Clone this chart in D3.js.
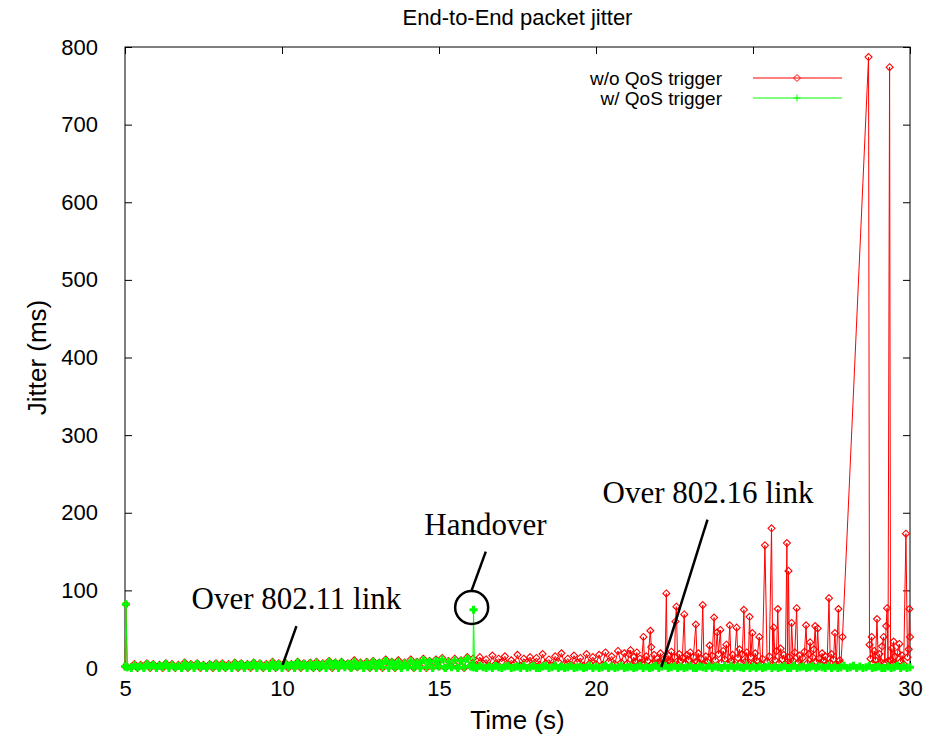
<!DOCTYPE html>
<html>
<head>
<meta charset="utf-8">
<script src="https://cdn.jsdelivr.net/npm/d3@7"></script>
<style>
  body { margin: 0; background: #fff; }
</style>
</head>
<body>
<script>
const sampleStep = 0.1;

const startSpike = [[5.0, 2], [5.03, 82], [5.07, 1]];

// w/o QoS trigger
const redEarlyStart = 5.2;
const redEarly = [
    1,5,0,4,2,6,0,5,1,4,0,6,2,5,0,4,1,7,0,5,2,6,0,4,1,5,0,6,1,
    6,0,5,2,7,0,6,1,5,0,7,2,6,0,5,1,8,0,6,2,7,0,5,1,8,0,6,2,7,0,
    8,0,6,2,9,0,7,1,8,2,6,0,10,1,7,2,8,0,9,1,7,0,11,2,8,0,10,1,7,2,
    11,0,8,2,12,0,9,1,11,2,13,0,9,2,12,1,10,0,14,3
];
const redHandover = [[16.08, 12], [16.14, 3]];
const redMidStart = 16.2;
const redMid = [
    4,14,6,11,3,16,5,12,8,15,4,10,6,17,3,12,7,14,5,
    13,4,18,6,11,3,15,8,19,5,12,4,16,7,13,3,18,6,14,5,
    17,4,20,8,15,5,22,7,19
];
const redLate = [
    [21.0,6],[21.05,18],[21.1,23],[21.15,5],[21.2,14],[21.25,8],[21.3,20],[21.35,4],[21.4,12],[21.45,6],
    [21.51,40],[21.55,5],[21.6,15],[21.65,9],[21.73,48],[21.76,27],[21.8,6],[21.85,17],[21.9,4],[21.95,12],
    [22.0,7],[22.05,19],[22.1,5],[22.15,11],[22.2,6],[22.24,96],[22.27,4],[22.32,16],[22.36,8],[22.4,21],
    [22.45,6],[22.5,14],[22.53,60],[22.56,79],[22.6,5],[22.65,18],[22.7,9],[22.75,13],[22.81,69],[22.85,6],
    [22.9,17],[22.95,10],[23.0,20],[23.05,5],[23.1,14],[23.18,56],[23.22,8],[23.26,19],[23.3,6],[23.35,12],
    [23.4,81],[23.44,5],[23.5,15],[23.55,8],[23.62,29],[23.66,4],[23.7,16],[23.76,65],[23.8,10],[23.86,46],
    [23.9,18],[23.96,49],[24.0,7],[24.05,22],[24.1,11],[24.15,30],[24.2,6],[24.26,55],[24.3,9],[24.35,17],
    [24.4,5],[24.48,52],[24.52,13],[24.57,24],[24.62,7],[24.66,18],[24.71,75],[24.75,8],[24.8,20],[24.85,5],
    [24.89,66],[24.93,14],[24.98,45],[25.02,6],[25.07,19],[25.12,9],[25.2,40],[25.25,5],[25.3,12],[25.38,158],
    [25.45,8],[25.52,15],[25.59,180],[25.63,4],[25.66,52],[25.7,10],[25.75,22],[25.79,76],[25.83,6],[25.88,25],
    [25.93,11],[25.98,17],[26.03,5],[26.08,161],[26.1,8],[26.13,125],[26.16,14],[26.2,6],[26.23,58],[26.28,9],
    [26.33,20],[26.39,77],[26.43,7],[26.48,16],[26.53,4],[26.58,13],[26.64,21],[26.69,55],[26.73,6],[26.78,18],
    [26.82,33],[26.86,5],[26.9,14],[26.94,24],[26.98,54],[27.02,8],[27.06,51],[27.1,12],[27.15,6],[27.2,19],
    [27.25,9],[27.3,15],[27.36,5],[27.42,90],[27.46,7],[27.5,18],[27.56,11],[27.61,45],[27.65,4],[27.72,76],
    [27.76,10],[27.8,6],[27.85,40],[28.68,787],[28.71,30],[28.74,12],[28.78,40],[28.82,6],[28.86,22],[28.9,10],
    [28.95,63],[28.99,5],[29.03,18],[29.07,8],[29.11,28],[29.16,40],[29.2,7],[29.24,54],[29.27,77],[29.3,9],
    [29.35,774],[29.38,10],[29.42,25],[29.45,6],[29.48,34],[29.52,15],[29.56,5],[29.6,20],[29.66,31],[29.7,8],
    [29.75,16],[29.8,5],[29.87,173],[29.92,14],[29.96,24],[29.98,76],[30.0,40]
];

// w/ QoS trigger
const greenEarlyStart = 5.2;
const greenEarly = [
    0,4,1,3,0,5,1,4,0,3,1,5,0,4,1,3,0,6,1,4,0,5,1,3,0,4,1,5,0,
    5,1,4,0,6,1,5,0,4,1,6,0,5,1,4,0,7,1,5,0,6,1,4,0,7,1,5,0,6,1,
    7,1,5,0,8,1,6,0,7,1,5,0,8,2,6,0,7,1,8,0,6,1,9,0,7,1,8,0,6,1,
    9,1,7,0,10,1,8,0,9,2,11,0,8,1,10,0,9,1,12,2
];
const greenHandover = [[16.05, 4], [16.08, 1], [16.1, 75], [16.13, 1]];
const greenLateStart = 16.2;
const greenLate = [
    0,3,1,0,2,0,3,1,0,2, 3,0,1,2,0,3,0,1,3,0, 0,2,3,0,1,3,0,2,0,1,
    3,0,1,2,0,1,3,0,2,0, 1,3,0,2,0,1,3,0,1,2, 0,1,3,0,2,0,1,3,0,2,
    3,0,1,3,0,2,0,1,3,0, 0,2,1,0,3,0,2,1,0,3, 0,3,0,2,1,0,3,0,2,0,
    2,0,1,3,0,2,0,1,3,0, 0,3,0,1,2,0,1,3,0,2, 1,0,3,0,2,0,1,3,0,1,
    3,0,2,0,1,3,0,1,2,0, 0,2,0,1,3,0,2,0,1
];

const seriesNames = ['w/o QoS trigger', 'w/ QoS trigger'];
const seriesColors = ['#ff0000', '#00ff00'];
const xTicks = [5, 10, 15, 20, 25, 30];
const yTicks = [0, 100, 200, 300, 400, 500, 600, 700, 800];

// annotations in data units: label centre/baseline, pointer from -> to
const notes = [
    {text: 'Over 802.11 link', t: 10.46, v: 76, from: [10.46, 54], to: [10.02, 4]},
    {text: 'Handover', t: 16.48, v: 171, from: [16.49, 150], to: [16.04, 100]},
    {text: 'Over 802.16 link', t: 23.57, v: 213, from: [23.55, 191], to: [22.08, 1]}
];
const handoverCircle = [16.04, 78];

const svgWidth = 941, svgHeight = 740;
const margin = {top: 47, right: 31, bottom: 72, left: 125};
const chartWidth = svgWidth - margin.left - margin.right;
const chartHeight = svgHeight - margin.top - margin.bottom;
const sans = '"Liberation Sans", Arial, Helvetica, sans-serif';
const serif = '"Liberation Serif", "Times New Roman", Times, serif';

function sampled(start, values) {
    return values.map((v, i) => [+(start + i * sampleStep).toFixed(2), v]);
}

window.onload = main;

function main() {
    const red = [].concat(startSpike, sampled(redEarlyStart, redEarly), redHandover,
        sampled(redMidStart, redMid), redLate);
    const green = [].concat(startSpike, sampled(greenEarlyStart, greenEarly), greenHandover,
        sampled(greenLateStart, greenLate));
    render([red, green]);
}

function render(series) {
    const svg = d3.select('body').append('svg')
        .attr('width', svgWidth)
        .attr('height', svgHeight)
        .style('font-family', sans);

    const g = svg.append('g')
        .attr('transform', `translate(${margin.left}, ${margin.top})`);

    const x = d3.scaleLinear().domain([5, 30]).range([0, chartWidth]);
    const y = d3.scaleLinear().domain([0, 800]).range([chartHeight, 0]);

    // axes, gnuplot style: ticks pointing inwards on all four sides
    const tick = 7;
    g.append('g')
        .attr('transform', `translate(0, ${chartHeight})`)
        .call(d3.axisBottom(x).tickValues(xTicks).tickSize(-tick).tickPadding(12).tickFormat(d3.format('d')));
    g.append('g')
        .call(d3.axisTop(x).tickValues(xTicks).tickSize(-tick).tickFormat(''));
    g.append('g')
        .call(d3.axisLeft(y).tickValues(yTicks).tickSize(-tick).tickPadding(27).tickFormat(d3.format('d')));
    g.append('g')
        .attr('transform', `translate(${chartWidth}, 0)`)
        .call(d3.axisRight(y).tickValues(yTicks).tickSize(-tick).tickFormat(''));
    g.selectAll('.domain').remove();
    g.selectAll('.tick line').attr('stroke', '#000');
    g.selectAll('.tick text')
        .attr('font-family', sans)
        .attr('font-size', 22)
        .attr('fill', '#000');

    g.append('rect')
        .attr('width', chartWidth)
        .attr('height', chartHeight)
        .attr('fill', 'none')
        .attr('stroke', '#000')
        .attr('stroke-width', 1);

    const line = d3.line().x(d => x(d[0])).y(d => y(d[1]));
    const diamond = (cx, cy) => `M${cx},${cy - 3.5}L${cx + 3.5},${cy}L${cx},${cy + 3.5}L${cx - 3.5},${cy}Z`;
    const plus = (cx, cy) => `M${cx - 4},${cy}H${cx + 4}M${cx},${cy - 4}V${cy + 4}`;
    const markers = [diamond, plus];

    series.forEach((data, i) => {
        g.append('path')
            .datum(data)
            .attr('d', line)
            .attr('fill', 'none')
            .attr('stroke', seriesColors[i])
            .attr('stroke-width', 1);
        g.append('g')
            .selectAll('path')
            .data(data)
            .join('path')
            .attr('d', d => markers[i](x(d[0]), y(d[1])))
            .attr('fill', 'none')
            .attr('stroke', seriesColors[i])
            .attr('stroke-width', i == 1 ? 3 : 1.1);
    });

    // legend
    seriesNames.forEach((name, i) => {
        const ly = 31 + i * 20;
        g.append('text')
            .attr('x', 597)
            .attr('y', ly)
            .attr('dy', '0.35em')
            .attr('text-anchor', 'end')
            .attr('font-size', 19)
            .text(name);
        g.append('line')
            .attr('x1', 628).attr('x2', 717)
            .attr('y1', ly).attr('y2', ly)
            .attr('stroke', seriesColors[i]);
        g.append('path')
            .attr('d', i == 0 ? diamond(672, ly) : `M668.5,${ly}H675.5M672,${ly - 3.5}V${ly + 3.5}`)
            .attr('fill', 'none')
            .attr('stroke', seriesColors[i]);
    });

    // annotations
    notes.forEach(n => {
        g.append('text')
            .attr('x', x(n.t))
            .attr('y', y(n.v))
            .attr('text-anchor', 'middle')
            .attr('font-family', serif)
            .attr('font-size', 31)
            .text(n.text);
        g.append('line')
            .attr('x1', x(n.from[0])).attr('y1', y(n.from[1]))
            .attr('x2', x(n.to[0])).attr('y2', y(n.to[1]))
            .attr('stroke', '#000')
            .attr('stroke-width', 2.5);
    });
    g.append('circle')
        .attr('cx', x(handoverCircle[0]))
        .attr('cy', y(handoverCircle[1]))
        .attr('r', 16.5)
        .attr('fill', 'none')
        .attr('stroke', '#000')
        .attr('stroke-width', 2.5);

    // titles
    svg.append('text')
        .attr('x', margin.left + chartWidth / 2)
        .attr('y', 25)
        .attr('text-anchor', 'middle')
        .attr('font-size', 22)
        .text('End-to-End packet jitter');
    svg.append('text')
        .attr('x', margin.left + chartWidth / 2)
        .attr('y', 729)
        .attr('text-anchor', 'middle')
        .attr('font-size', 26)
        .text('Time (s)');
    svg.append('text')
        .attr('transform', `translate(46, ${margin.top + chartHeight / 2}) rotate(-90)`)
        .attr('text-anchor', 'middle')
        .attr('font-size', 26)
        .text('Jitter (ms)');
}
</script>
</body>
</html>
